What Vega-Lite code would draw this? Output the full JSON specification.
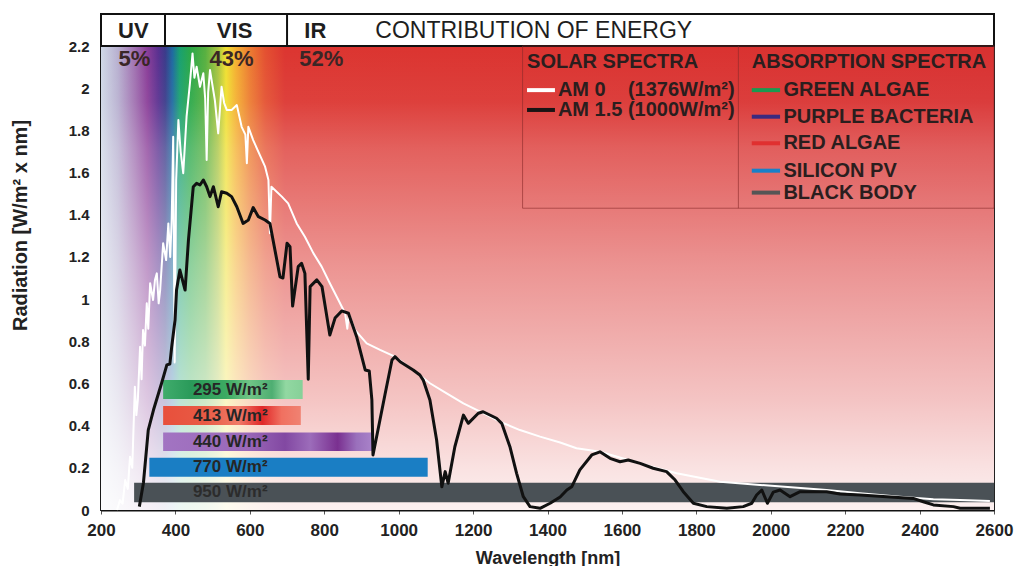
{
  "$schema": "https://vega.github.io/schema/vega-lite/v6.json",
  "width": 893,
  "height": 496,
  "autosize": {"type": "none"},
  "padding": {"left": 101, "top": 14, "right": 22, "bottom": 56},
  "background": "white",
  "config": {
    "view": {"stroke": "#222", "strokeWidth": 2},
    "font": "Liberation Sans",
    "text": {"font": "Liberation Sans"}
  },
  "datasets": {
    "bg": [{"x0": 200, "x1": 2600, "y0": 0, "y1": 2.2}],
    "header": [{"x0": 200, "x1": 2600, "y0": 2.2, "y1": 2.352}],
    "hdiv": [{"x0": 372, "y0": 2.2, "y1": 2.352}, {"x0": 700, "y0": 2.2, "y1": 2.352}],
    "lbox": [{"x0": 1333, "x1": 2600, "y0": 1.431, "y1": 2.2}],
    "ldiv": [{"x0": 1913, "y0": 1.431, "y1": 2.2}],
    "barGreen": [{"x0": 367, "x1": 742, "y0": 0.526, "y1": 0.616}],
    "barRed": [{"x0": 367, "x1": 737, "y0": 0.403, "y1": 0.493}],
    "barPurple": [{"x0": 367, "x1": 932, "y0": 0.28, "y1": 0.368}],
    "barBlue": [{"x0": 330, "x1": 1078, "y0": 0.158, "y1": 0.248}],
    "barGrey": [{"x0": 289, "x1": 2600, "y0": 0.037, "y1": 0.129}],
    "barText": [
      {"t": "295 W/m²", "x": 447, "y": 0.571},
      {"t": "413 W/m²", "x": 447, "y": 0.448},
      {"t": "440 W/m²", "x": 447, "y": 0.324},
      {"t": "770 W/m²", "x": 447, "y": 0.203}
    ],
    "barText2": [{"t": "950 W/m²", "x": 447, "y": 0.083}],
    "am0": [
      {"wl": 243, "rad": 0}, {"wl": 251, "rad": 0.047}, {"wl": 258, "rad": 0.03}, {"wl": 265, "rad": 0.142}, {"wl": 272, "rad": 0.1},
      {"wl": 278, "rad": 0.253}, {"wl": 284, "rad": 0.2}, {"wl": 291, "rad": 0.585}, {"wl": 295, "rad": 0.45}, {"wl": 299, "rad": 0.522}, {"wl": 305, "rad": 0.774},
      {"wl": 309, "rad": 0.62}, {"wl": 313, "rad": 0.853}, {"wl": 318, "rad": 0.78}, {"wl": 323, "rad": 0.98}, {"wl": 327, "rad": 0.86}, {"wl": 332, "rad": 1.075},
      {"wl": 340, "rad": 0.996}, {"wl": 345, "rad": 1.09}, {"wl": 350, "rad": 1.122}, {"wl": 355, "rad": 0.98}, {"wl": 359, "rad": 1.043}, {"wl": 367, "rad": 1.265}, {"wl": 375, "rad": 1.185},
      {"wl": 381, "rad": 1.359}, {"wl": 386, "rad": 1.2}, {"wl": 390, "rad": 1.375}, {"wl": 394, "rad": 1.77}, {"wl": 398, "rad": 0.7},
      {"wl": 402, "rad": 1.565}, {"wl": 408, "rad": 1.849}, {"wl": 414, "rad": 1.7}, {"wl": 421, "rad": 1.597}, {"wl": 430, "rad": 1.865}, {"wl": 439, "rad": 2.023},
      {"wl": 446, "rad": 2.165}, {"wl": 451, "rad": 2.05}, {"wl": 457, "rad": 2.102}, {"wl": 466, "rad": 2.007}, {"wl": 475, "rad": 2.071},
      {"wl": 480, "rad": 1.95}, {"wl": 484, "rad": 1.66}, {"wl": 488, "rad": 1.98}, {"wl": 493, "rad": 2.086}, {"wl": 506, "rad": 1.944},
      {"wl": 515, "rad": 1.786}, {"wl": 524, "rad": 2.007}, {"wl": 531, "rad": 1.93}, {"wl": 538, "rad": 1.897}, {"wl": 551, "rad": 1.897},
      {"wl": 565, "rad": 1.92}, {"wl": 578, "rad": 1.817}, {"wl": 588, "rad": 1.78}, {"wl": 592, "rad": 1.644}, {"wl": 596, "rad": 1.817},
      {"wl": 609, "rad": 1.754}, {"wl": 627, "rad": 1.683}, {"wl": 641, "rad": 1.628}, {"wl": 650, "rad": 1.565}, {"wl": 654, "rad": 1.312},
      {"wl": 658, "rad": 1.533}, {"wl": 686, "rad": 1.486}, {"wl": 703, "rad": 1.454}, {"wl": 726, "rad": 1.359}, {"wl": 748, "rad": 1.296},
      {"wl": 771, "rad": 1.217}, {"wl": 793, "rad": 1.154}, {"wl": 815, "rad": 1.075}, {"wl": 838, "rad": 0.996}, {"wl": 856, "rad": 0.933},
      {"wl": 862, "rad": 0.86}, {"wl": 866, "rad": 0.93}, {"wl": 883, "rad": 0.853}, {"wl": 914, "rad": 0.79}, {"wl": 950, "rad": 0.759},
      {"wl": 990, "rad": 0.727}, {"wl": 1039, "rad": 0.664}, {"wl": 1084, "rad": 0.601}, {"wl": 1129, "rad": 0.553}, {"wl": 1174, "rad": 0.506},
      {"wl": 1219, "rad": 0.466}, {"wl": 1272, "rad": 0.419}, {"wl": 1326, "rad": 0.379}, {"wl": 1380, "rad": 0.348}, {"wl": 1434, "rad": 0.32},
      {"wl": 1478, "rad": 0.293}, {"wl": 1541, "rad": 0.276}, {"wl": 1649, "rad": 0.221}, {"wl": 1747, "rad": 0.174}, {"wl": 1864, "rad": 0.134},
      {"wl": 1971, "rad": 0.119}, {"wl": 2150, "rad": 0.095}, {"wl": 2240, "rad": 0.079}, {"wl": 2347, "rad": 0.063}, {"wl": 2437, "rad": 0.051},
      {"wl": 2509, "rad": 0.047}, {"wl": 2589, "rad": 0.043}
    ],
    "am15": [
      {"wl": 303, "rad": 0.016}, {"wl": 314, "rad": 0.128}, {"wl": 327, "rad": 0.379}, {"wl": 341, "rad": 0.474}, {"wl": 363, "rad": 0.602},
      {"wl": 377, "rad": 0.688}, {"wl": 385, "rad": 0.692}, {"wl": 390, "rad": 0.773}, {"wl": 399, "rad": 0.901}, {"wl": 403, "rad": 1.043},
      {"wl": 412, "rad": 1.138}, {"wl": 426, "rad": 1.043}, {"wl": 435, "rad": 1.28}, {"wl": 448, "rad": 1.533}, {"wl": 457, "rad": 1.549},
      {"wl": 466, "rad": 1.541}, {"wl": 475, "rad": 1.565}, {"wl": 484, "rad": 1.533}, {"wl": 493, "rad": 1.486}, {"wl": 502, "rad": 1.533},
      {"wl": 515, "rad": 1.438}, {"wl": 524, "rad": 1.509}, {"wl": 538, "rad": 1.502}, {"wl": 551, "rad": 1.486}, {"wl": 565, "rad": 1.438},
      {"wl": 582, "rad": 1.359}, {"wl": 596, "rad": 1.375}, {"wl": 609, "rad": 1.434}, {"wl": 623, "rad": 1.391}, {"wl": 641, "rad": 1.375},
      {"wl": 654, "rad": 1.359}, {"wl": 681, "rad": 1.106}, {"wl": 689, "rad": 1.1}, {"wl": 700, "rad": 1.265}, {"wl": 708, "rad": 1.248},
      {"wl": 715, "rad": 0.967}, {"wl": 730, "rad": 1.154}, {"wl": 739, "rad": 1.17}, {"wl": 748, "rad": 1.122}, {"wl": 757, "rad": 0.62},
      {"wl": 762, "rad": 1.059}, {"wl": 780, "rad": 1.091}, {"wl": 794, "rad": 1.059}, {"wl": 815, "rad": 0.83}, {"wl": 829, "rad": 0.91},
      {"wl": 847, "rad": 0.944}, {"wl": 865, "rad": 0.933}, {"wl": 887, "rad": 0.822}, {"wl": 910, "rad": 0.664}, {"wl": 921, "rad": 0.659},
      {"wl": 928, "rad": 0.522}, {"wl": 931, "rad": 0.261}, {"wl": 939, "rad": 0.332}, {"wl": 963, "rad": 0.545}, {"wl": 982, "rad": 0.711},
      {"wl": 990, "rad": 0.727}, {"wl": 1004, "rad": 0.703}, {"wl": 1039, "rad": 0.664}, {"wl": 1057, "rad": 0.64}, {"wl": 1066, "rad": 0.616},
      {"wl": 1084, "rad": 0.522}, {"wl": 1102, "rad": 0.332}, {"wl": 1116, "rad": 0.11}, {"wl": 1125, "rad": 0.182}, {"wl": 1133, "rad": 0.127},
      {"wl": 1151, "rad": 0.3}, {"wl": 1174, "rad": 0.45}, {"wl": 1187, "rad": 0.411}, {"wl": 1214, "rad": 0.459}, {"wl": 1227, "rad": 0.466},
      {"wl": 1263, "rad": 0.435}, {"wl": 1277, "rad": 0.411}, {"wl": 1299, "rad": 0.3}, {"wl": 1317, "rad": 0.174}, {"wl": 1335, "rad": 0.063},
      {"wl": 1353, "rad": 0.016}, {"wl": 1380, "rad": 0.008}, {"wl": 1407, "rad": 0.032}, {"wl": 1434, "rad": 0.062}, {"wl": 1452, "rad": 0.095},
      {"wl": 1465, "rad": 0.11}, {"wl": 1487, "rad": 0.19}, {"wl": 1519, "rad": 0.261}, {"wl": 1541, "rad": 0.276}, {"wl": 1568, "rad": 0.245},
      {"wl": 1595, "rad": 0.229}, {"wl": 1617, "rad": 0.237}, {"wl": 1649, "rad": 0.221}, {"wl": 1684, "rad": 0.198}, {"wl": 1720, "rad": 0.182},
      {"wl": 1743, "rad": 0.142}, {"wl": 1765, "rad": 0.087}, {"wl": 1792, "rad": 0.032}, {"wl": 1828, "rad": 0.016}, {"wl": 1882, "rad": 0.008},
      {"wl": 1926, "rad": 0.016}, {"wl": 1949, "rad": 0.032}, {"wl": 1962, "rad": 0.071}, {"wl": 1976, "rad": 0.095}, {"wl": 1991, "rad": 0.032},
      {"wl": 2007, "rad": 0.085}, {"wl": 2025, "rad": 0.095}, {"wl": 2052, "rad": 0.063}, {"wl": 2079, "rad": 0.087}, {"wl": 2150, "rad": 0.087},
      {"wl": 2186, "rad": 0.076}, {"wl": 2240, "rad": 0.071}, {"wl": 2312, "rad": 0.063}, {"wl": 2383, "rad": 0.055}, {"wl": 2410, "rad": 0.039},
      {"wl": 2437, "rad": 0.024}, {"wl": 2491, "rad": 0.016}, {"wl": 2509, "rad": 0.008}, {"wl": 2589, "rad": 0.008}
    ],
    "legLines": [
      {"s": "AM 0", "x0": 1345, "x1": 1420, "y": 1.991},
      {"s": "AM 1.5", "x0": 1345, "x1": 1420, "y": 1.897},
      {"s": "GREEN ALGAE", "x0": 1949, "x1": 2025, "y": 1.991},
      {"s": "PURPLE BACTERIA", "x0": 1949, "x1": 2025, "y": 1.865},
      {"s": "RED ALGAE", "x0": 1949, "x1": 2025, "y": 1.739},
      {"s": "SILICON PV", "x0": 1949, "x1": 2025, "y": 1.609},
      {"s": "BLACK BODY", "x0": 1949, "x1": 2025, "y": 1.505}
    ],
    "legText": [
      {"t": "AM 0\u00a0\u00a0\u00a0\u00a0(1376W/m²)", "x": 1428, "y": 1.991},
      {"t": "AM 1.5 (1000W/m²)", "x": 1428, "y": 1.897},
      {"t": "GREEN ALGAE", "x": 2034, "y": 1.991},
      {"t": "PURPLE BACTERIA", "x": 2034, "y": 1.865},
      {"t": "RED ALGAE", "x": 2034, "y": 1.739},
      {"t": "SILICON PV", "x": 2034, "y": 1.609},
      {"t": "BLACK BODY", "x": 2034, "y": 1.505},
      {"t": "SOLAR SPECTRA", "x": 1345, "y": 2.126},
      {"t": "ABSORPTION SPECTRA", "x": 1949, "y": 2.126}
    ],
    "headBold": [
      {"t": "UV", "x": 287, "y": 2.271},
      {"t": "VIS", "x": 559, "y": 2.271},
      {"t": "IR", "x": 776, "y": 2.271}
    ],
    "headNormal": [{"t": "CONTRIBUTION OF ENERGY", "x": 1363, "y": 2.271}],
    "pct": [
      {"t": "5%", "x": 290, "y": 2.138},
      {"t": "43%", "x": 551, "y": 2.138},
      {"t": "52%", "x": 792, "y": 2.138}
    ]
  },
  "layer": [
    {
      "data": {"name": "bg"},
      "mark": {"type": "rect", "fill": {"gradient": "linear", "x1": 0, "y1": 0, "x2": 1, "y2": 0, "stops": [
        {"offset": 0, "color": "#cfd8e6"},
        {"offset": 0.019, "color": "#b8b0d0"},
        {"offset": 0.038, "color": "#a070b0"},
        {"offset": 0.052, "color": "#8a3d98"},
        {"offset": 0.064, "color": "#5a3090"},
        {"offset": 0.072, "color": "#3a3a8a"},
        {"offset": 0.08, "color": "#1e6aa0"},
        {"offset": 0.088, "color": "#18a070"},
        {"offset": 0.1, "color": "#2aa848"},
        {"offset": 0.117, "color": "#58b040"},
        {"offset": 0.131, "color": "#a8c440"},
        {"offset": 0.14, "color": "#f0e030"},
        {"offset": 0.151, "color": "#f4b030"},
        {"offset": 0.167, "color": "#ec7a30"},
        {"offset": 0.184, "color": "#e45030"},
        {"offset": 0.206, "color": "#dc3530"},
        {"offset": 1, "color": "#d83030"}
      ]}},
      "encoding": {
        "x": {"field": "x0", "type": "quantitative", "scale": {"domain": [200, 2600], "nice": false, "zero": false}, "title": "Wavelength [nm]",
          "axis": {"values": [200, 400, 600, 800, 1000, 1200, 1400, 1600, 1800, 2000, 2200, 2400, 2600], "format": "d", "grid": false,
            "domainColor": "#111", "domainWidth": 2, "tickColor": "#555", "tickSize": 4, "labelFontSize": 17, "labelFontWeight": "bold", "labelColor": "#222",
            "labelBaseline": "middle", "labelPadding": 16, "labelFlush": false, "labelFont": "Liberation Sans",
            "titleFontSize": 18, "titleFontWeight": "bold", "titleColor": "#222", "titleBaseline": "middle", "titleY": 48, "titleFont": "Liberation Sans"}},
        "x2": {"field": "x1"},
        "y": {"field": "y0", "type": "quantitative", "scale": {"domain": [0, 2.352], "nice": false, "zero": false}, "title": "Radiation [W/m² x nm]",
          "axis": {"values": [0, 0.2, 0.4, 0.6, 0.8, 1, 1.2, 1.4, 1.6, 1.8, 2, 2.2], "format": "~g", "grid": false, "ticks": false,
            "domainColor": "#111", "domainWidth": 2, "labelFontSize": 15, "labelFontWeight": "bold", "labelColor": "#222", "labelPadding": 12, "labelFont": "Liberation Sans",
            "titleFontSize": 20, "titleFontWeight": "bold", "titleColor": "#222", "titleAngle": -90, "titleBaseline": "middle", "titleAlign": "center", "titleX": -81, "titleY": 211, "titleFont": "Liberation Sans"}},
        "y2": {"field": "y1"}
      }
    },
    {
      "data": {"name": "bg"},
      "mark": {"type": "rect", "fill": {"gradient": "linear", "x1": 0, "y1": 0, "x2": 0, "y2": 1, "stops": [
        {"offset": 0, "color": "rgba(255,255,255,0)"},
        {"offset": 0.12, "color": "rgba(255,255,255,0.06)"},
        {"offset": 0.22, "color": "rgba(255,255,255,0.22)"},
        {"offset": 0.47, "color": "rgba(255,255,255,0.47)"},
        {"offset": 0.76, "color": "rgba(255,255,255,0.71)"},
        {"offset": 0.91, "color": "rgba(255,255,255,0.86)"},
        {"offset": 1, "color": "rgba(255,255,255,0.93)"}
      ]}},
      "encoding": {
        "x": {"field": "x0", "type": "quantitative", "title": "Wavelength [nm]"},
        "x2": {"field": "x1"},
        "y": {"field": "y0", "type": "quantitative", "title": "Radiation [W/m² x nm]"},
        "y2": {"field": "y1"}
      }
    },
    {
      "data": {"name": "header"},
      "mark": {"type": "rect", "fill": "white", "stroke": "#111", "strokeWidth": 2},
      "encoding": {
        "x": {"field": "x0", "type": "quantitative", "title": "Wavelength [nm]"},
        "x2": {"field": "x1"},
        "y": {"field": "y0", "type": "quantitative", "title": "Radiation [W/m² x nm]"},
        "y2": {"field": "y1"}
      }
    },
    {
      "data": {"name": "hdiv"},
      "mark": {"type": "rule", "color": "#111", "strokeWidth": 2},
      "encoding": {
        "x": {"field": "x0", "type": "quantitative", "title": "Wavelength [nm]"},
        "y": {"field": "y0", "type": "quantitative", "title": "Radiation [W/m² x nm]"},
        "y2": {"field": "y1"}
      }
    },
    {
      "data": {"name": "lbox"},
      "mark": {"type": "rect", "fill": null, "fillOpacity": 0, "stroke": "#8a2a2a", "strokeOpacity": 0.6, "strokeWidth": 1},
      "encoding": {
        "x": {"field": "x0", "type": "quantitative", "title": "Wavelength [nm]"},
        "x2": {"field": "x1"},
        "y": {"field": "y0", "type": "quantitative", "title": "Radiation [W/m² x nm]"},
        "y2": {"field": "y1"}
      }
    },
    {
      "data": {"name": "ldiv"},
      "mark": {"type": "rule", "color": "#8a2a2a", "opacity": 0.6, "strokeWidth": 1},
      "encoding": {
        "x": {"field": "x0", "type": "quantitative", "title": "Wavelength [nm]"},
        "y": {"field": "y0", "type": "quantitative", "title": "Radiation [W/m² x nm]"},
        "y2": {"field": "y1"}
      }
    },
    {
      "data": {"name": "barGreen"},
      "mark": {"type": "rect", "fill": {"gradient": "linear", "x1": 0, "y1": 0, "x2": 1, "y2": 0, "stops": [
        {"offset": 0, "color": "#40ac6c"}, {"offset": 0.2, "color": "#2a9a5a"}, {"offset": 0.45, "color": "#3caa62"},
        {"offset": 0.62, "color": "#70c486"}, {"offset": 0.78, "color": "#4eae72"}, {"offset": 0.88, "color": "#92d8a2"}, {"offset": 1, "color": "#86d098"}
      ]}},
      "encoding": {
        "x": {"field": "x0", "type": "quantitative", "title": "Wavelength [nm]"},
        "x2": {"field": "x1"},
        "y": {"field": "y0", "type": "quantitative", "title": "Radiation [W/m² x nm]"},
        "y2": {"field": "y1"}
      }
    },
    {
      "data": {"name": "barRed"},
      "mark": {"type": "rect", "fill": {"gradient": "linear", "x1": 0, "y1": 0, "x2": 1, "y2": 0, "stops": [
        {"offset": 0, "color": "#e8503c"}, {"offset": 0.3, "color": "#e85a44"}, {"offset": 0.55, "color": "#f07a68"},
        {"offset": 0.72, "color": "#e02828"}, {"offset": 0.86, "color": "#f07060"}, {"offset": 1, "color": "#f08272"}
      ]}},
      "encoding": {
        "x": {"field": "x0", "type": "quantitative", "title": "Wavelength [nm]"},
        "x2": {"field": "x1"},
        "y": {"field": "y0", "type": "quantitative", "title": "Radiation [W/m² x nm]"},
        "y2": {"field": "y1"}
      }
    },
    {
      "data": {"name": "barPurple"},
      "mark": {"type": "rect", "fill": {"gradient": "linear", "x1": 0, "y1": 0, "x2": 1, "y2": 0, "stops": [
        {"offset": 0, "color": "#a274c2"}, {"offset": 0.4, "color": "#9a68b8"}, {"offset": 0.58, "color": "#8248a2"},
        {"offset": 0.7, "color": "#9c6cba"}, {"offset": 0.83, "color": "#7a3090"}, {"offset": 0.92, "color": "#9a70bc"}, {"offset": 1, "color": "#aa84ca"}
      ]}},
      "encoding": {
        "x": {"field": "x0", "type": "quantitative", "title": "Wavelength [nm]"},
        "x2": {"field": "x1"},
        "y": {"field": "y0", "type": "quantitative", "title": "Radiation [W/m² x nm]"},
        "y2": {"field": "y1"}
      }
    },
    {
      "data": {"name": "barBlue"},
      "mark": {"type": "rect", "fill": "#1a7ec4"},
      "encoding": {
        "x": {"field": "x0", "type": "quantitative", "title": "Wavelength [nm]"},
        "x2": {"field": "x1"},
        "y": {"field": "y0", "type": "quantitative", "title": "Radiation [W/m² x nm]"},
        "y2": {"field": "y1"}
      }
    },
    {
      "data": {"name": "barGrey"},
      "mark": {"type": "rect", "fill": "#4a5156"},
      "encoding": {
        "x": {"field": "x0", "type": "quantitative", "title": "Wavelength [nm]"},
        "x2": {"field": "x1"},
        "y": {"field": "y0", "type": "quantitative", "title": "Radiation [W/m² x nm]"},
        "y2": {"field": "y1"}
      }
    },
    {
      "data": {"name": "barText"},
      "mark": {"type": "text", "align": "left", "baseline": "middle", "fontSize": 17, "fontWeight": "bold", "color": "#262626", "font": "Liberation Sans"},
      "encoding": {
        "x": {"field": "x", "type": "quantitative", "title": "Wavelength [nm]"},
        "y": {"field": "y", "type": "quantitative", "title": "Radiation [W/m² x nm]"},
        "text": {"field": "t"}
      }
    },
    {
      "data": {"name": "barText2"},
      "mark": {"type": "text", "align": "left", "baseline": "middle", "fontSize": 17, "fontWeight": "bold", "color": "#2c2c2c", "font": "Liberation Sans"},
      "encoding": {
        "x": {"field": "x", "type": "quantitative", "title": "Wavelength [nm]"},
        "y": {"field": "y", "type": "quantitative", "title": "Radiation [W/m² x nm]"},
        "text": {"field": "t"}
      }
    },
    {
      "data": {"name": "am0"},
      "mark": {"type": "line", "color": "white", "strokeWidth": 2, "strokeJoin": "round"},
      "encoding": {
        "x": {"field": "wl", "type": "quantitative", "title": "Wavelength [nm]"},
        "y": {"field": "rad", "type": "quantitative", "title": "Radiation [W/m² x nm]"}
      }
    },
    {
      "data": {"name": "am15"},
      "mark": {"type": "line", "color": "#111", "strokeWidth": 3, "strokeJoin": "round"},
      "encoding": {
        "x": {"field": "wl", "type": "quantitative", "title": "Wavelength [nm]"},
        "y": {"field": "rad", "type": "quantitative", "title": "Radiation [W/m² x nm]"}
      }
    },
    {
      "data": {"name": "legLines"},
      "mark": {"type": "rule", "strokeWidth": 4},
      "encoding": {
        "x": {"field": "x0", "type": "quantitative", "title": "Wavelength [nm]"},
        "x2": {"field": "x1"},
        "y": {"field": "y", "type": "quantitative", "title": "Radiation [W/m² x nm]"},
        "color": {"field": "s", "type": "nominal", "legend": null,
          "scale": {"domain": ["AM 0", "AM 1.5", "GREEN ALGAE", "PURPLE BACTERIA", "RED ALGAE", "SILICON PV", "BLACK BODY"],
            "range": ["#ffffff", "#1a1414", "#1a9a50", "#3a2a80", "#e03030", "#1a80c8", "#555555"]}}
      }
    },
    {
      "data": {"name": "legText"},
      "mark": {"type": "text", "align": "left", "baseline": "middle", "fontSize": 20, "fontWeight": "bold", "color": "#2a1e1e", "font": "Liberation Sans"},
      "encoding": {
        "x": {"field": "x", "type": "quantitative", "title": "Wavelength [nm]"},
        "y": {"field": "y", "type": "quantitative", "title": "Radiation [W/m² x nm]"},
        "text": {"field": "t"}
      }
    },
    {
      "data": {"name": "headBold"},
      "mark": {"type": "text", "align": "center", "baseline": "middle", "fontSize": 22, "fontWeight": "bold", "color": "#1e1e1e", "font": "Liberation Sans"},
      "encoding": {
        "x": {"field": "x", "type": "quantitative", "title": "Wavelength [nm]"},
        "y": {"field": "y", "type": "quantitative", "title": "Radiation [W/m² x nm]"},
        "text": {"field": "t"}
      }
    },
    {
      "data": {"name": "headNormal"},
      "mark": {"type": "text", "align": "center", "baseline": "middle", "fontSize": 23, "fontWeight": "normal", "color": "#1e1e1e", "font": "Liberation Sans"},
      "encoding": {
        "x": {"field": "x", "type": "quantitative", "title": "Wavelength [nm]"},
        "y": {"field": "y", "type": "quantitative", "title": "Radiation [W/m² x nm]"},
        "text": {"field": "t"}
      }
    },
    {
      "data": {"name": "pct"},
      "mark": {"type": "text", "align": "center", "baseline": "middle", "fontSize": 22, "fontWeight": "bold", "color": "#3a2626", "font": "Liberation Sans"},
      "encoding": {
        "x": {"field": "x", "type": "quantitative", "title": "Wavelength [nm]"},
        "y": {"field": "y", "type": "quantitative", "title": "Radiation [W/m² x nm]"},
        "text": {"field": "t"}
      }
    }
  ]
}
